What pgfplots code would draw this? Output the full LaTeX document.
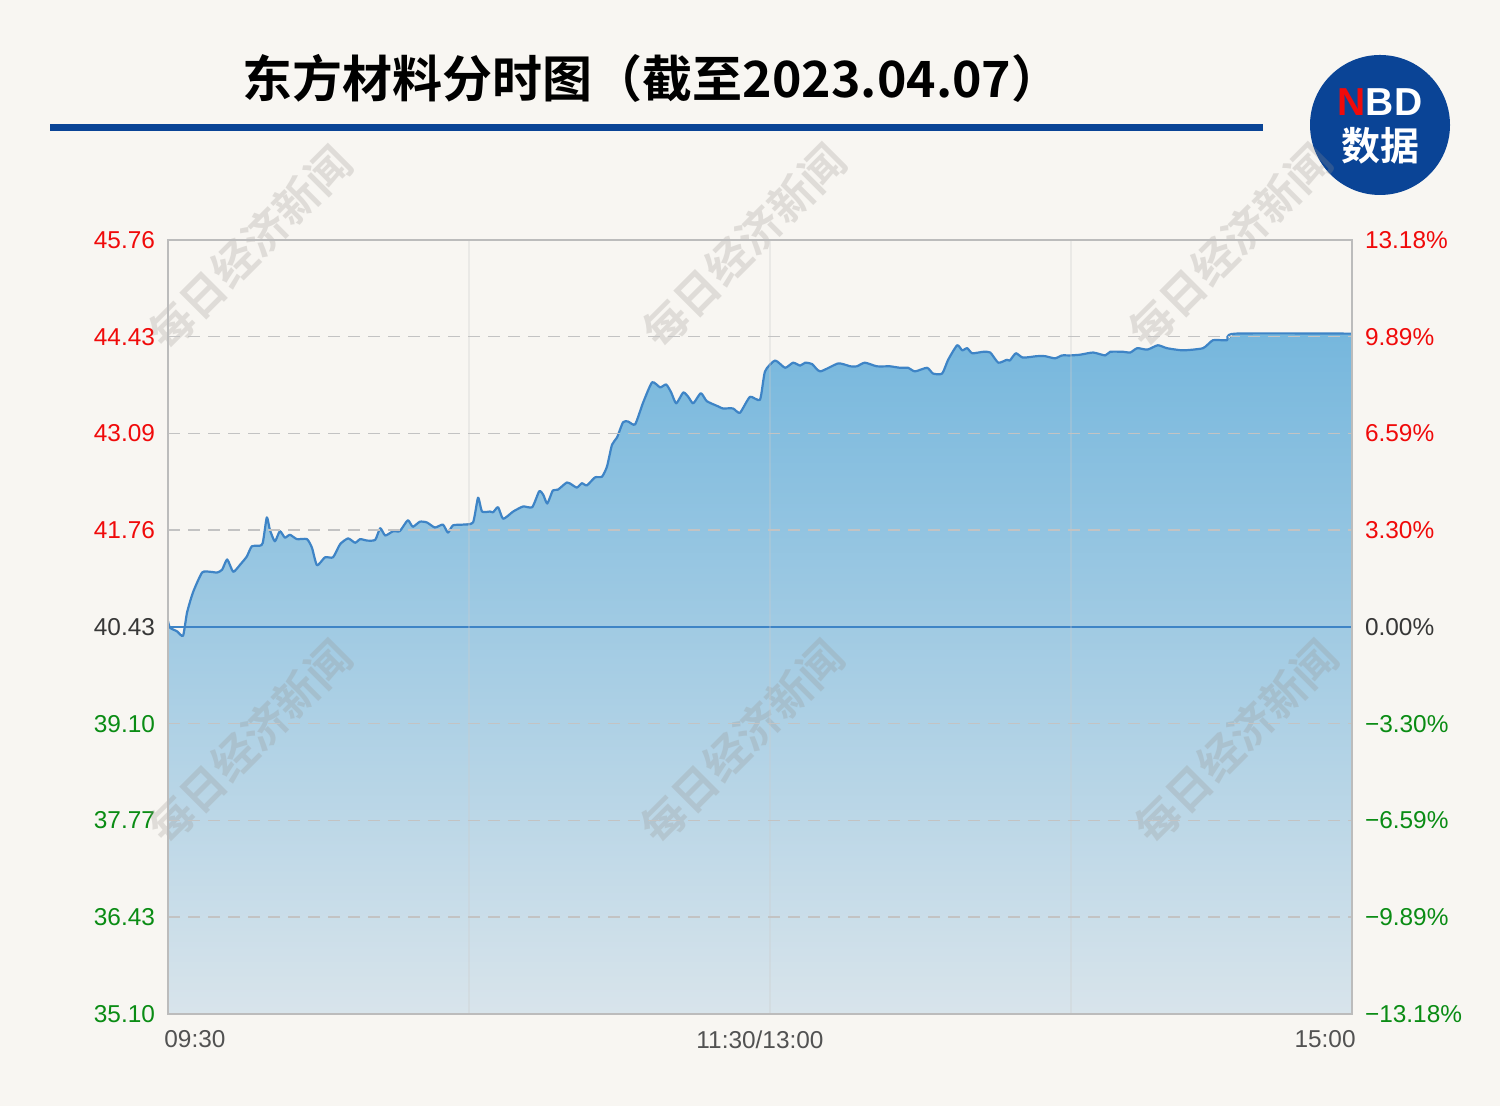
\documentclass[border=0pt]{standalone}
\usepackage{pgfplots}
\pgfplotsset{compat=1.18}
\usepackage{pgfplotstable}
\usepgfplotslibrary{fillbetween}
\usepackage{fontspec}
\setmainfont{Liberation Sans}
\newfontfamily\cjk{Noto Sans CJK SC}[BoldFont={Noto Sans CJK SC Bold}]
\definecolor{bg}{RGB}{248,246,242}
\definecolor{nbdblue}{RGB}{10,68,150}
\definecolor{upred}{RGB}{240,10,10}
\definecolor{dngreen}{RGB}{10,140,20}
\definecolor{neutral}{RGB}{55,55,55}
\definecolor{linec}{RGB}{62,132,198}
\definecolor{gridc}{RGB}{195,195,195}
\definecolor{framec}{RGB}{188,188,188}
\definecolor{filltop}{RGB}{118,183,221}
\definecolor{fillbot}{RGB}{216,228,235}
\definecolor{wm}{RGB}{150,145,140}
\pagecolor{bg}

\pgfplotstableread{
t p
0 40.51
0.4 40.42
1.8 40.37
3.0 40.31
3.8 40.63
5.0 40.91
6.8 41.18
8.4 41.19
9.8 41.18
10.8 41.22
11.8 41.36
13.0 41.19
14.4 41.29
15.7 41.40
16.7 41.54
18.3 41.55
18.9 41.59
19.7 41.94
20.3 41.77
21.3 41.61
22.3 41.75
23.3 41.66
24.3 41.70
25.7 41.64
27.7 41.64
28.7 41.52
29.7 41.28
31.3 41.39
32.9 41.39
34.3 41.57
35.9 41.65
37.3 41.59
38.3 41.64
39.7 41.62
41.3 41.63
42.3 41.79
43.3 41.69
44.9 41.75
46.2 41.75
47.8 41.90
48.8 41.81
50.2 41.88
51.6 41.87
53.2 41.80
54.8 41.84
55.8 41.73
56.8 41.83
58.8 41.84
60.8 41.87
61.8 42.21
62.6 42.02
64.2 42.02
64.8 42.01
65.8 42.08
66.8 41.92
68.8 42.02
70.8 42.09
72.6 42.08
74.0 42.30
74.8 42.25
75.6 42.13
76.7 42.31
77.7 42.32
79.5 42.42
80.5 42.39
81.5 42.35
82.5 42.41
83.5 42.38
85.1 42.49
86.5 42.50
87.5 42.64
88.5 42.94
89.5 43.04
90.7 43.25
91.7 43.26
93.1 43.22
94.7 43.52
96.5 43.80
98.1 43.73
99.3 43.77
100.3 43.66
101.3 43.51
102.7 43.66
103.7 43.60
104.7 43.51
106.2 43.65
107.4 43.54
109.6 43.47
110.6 43.44
112.6 43.44
114.0 43.38
116.0 43.60
118.0 43.56
119.0 43.95
121.0 44.10
123.0 44.00
124.6 44.07
126.0 44.03
127.0 44.07
128.4 44.05
130.0 43.95
133.6 44.06
136.0 44.02
137.3 44.02
138.9 44.07
141.3 44.02
143.9 44.02
145.9 44.00
147.5 44.00
148.9 43.95
151.3 44.00
152.5 43.92
154.3 43.92
155.5 44.11
157.3 44.31
158.3 44.24
159.3 44.27
160.3 44.20
162.5 44.22
163.9 44.21
165.5 44.07
167.2 44.11
167.8 44.10
169.0 44.20
170.4 44.14
173.2 44.16
174.8 44.16
176.8 44.13
178.2 44.17
179.8 44.17
181.8 44.18
184.4 44.21
186.8 44.17
187.8 44.22
190.4 44.22
191.8 44.21
193.2 44.27
195.2 44.25
197.3 44.31
199.1 44.27
202.3 44.24
206.3 44.27
208.3 44.38
211.1 44.38
212.7 44.47
236.0 44.47
}\datatable

\begin{document}
\begin{tikzpicture}

% title
\node[font=\cjk\bfseries\fontsize{25}{28}\selectfont, text=black] at (326pt,514pt) {东方材料分时图（截至2023.04.07）};
\fill[nbdblue] (25pt,487.5pt) rectangle (631.5pt,491pt);

% logo
\fill[nbdblue] (690pt,490.5pt) circle (35pt);
\node[font=\bfseries\fontsize{19.5}{20}\selectfont, inner sep=0] at (690pt,502pt) {\textcolor{upred}{N}\textcolor{white}{BD}};
\node[font=\cjk\bfseries\fontsize{19.5}{20}\selectfont, text=white, inner sep=0] at (690pt,480pt) {数据};

\begin{axis}[
  at={(84pt,46pt)}, anchor=south west,
  scale only axis, width=592pt, height=387pt,
  xmin=0, xmax=236, ymin=35.10, ymax=45.76,
  axis line style={draw=framec, line width=1.1pt},
  major tick length=0pt,
  xtick={60,120,180}, xticklabels={},
  xmajorgrids, x grid style={draw=gray!40, opacity=0.3, line width=0.7pt},
  ytick={35.10,36.4325,37.765,39.0975,40.43,41.7625,43.095,44.4275,45.76},
  yticklabels={\textcolor{dngreen}{35.10},\textcolor{dngreen}{36.43},\textcolor{dngreen}{37.77},\textcolor{dngreen}{39.10},\textcolor{neutral}{40.43},\textcolor{upred}{41.76},\textcolor{upred}{43.09},\textcolor{upred}{44.43},\textcolor{upred}{45.76}},
  yticklabel style={font=\fontsize{12.2}{14}\selectfont, xshift=-3pt},
  extra y ticks={36.4325,37.765,39.0975,41.7625,43.095,44.4275},
  extra y tick labels={},
  extra y tick style={grid=major, major grid style={draw=gridc, dash pattern=on 6pt off 4pt, line width=0.75pt}},
  axis on top,
  clip mode=individual,
]
\addplot[name path=A, draw=none, forget plot] table[x=t,y=p] {\datatable};
\addplot[name path=B, draw=none, forget plot] coordinates {(0,35.10) (236,35.10)};
\addplot[top color=filltop, bottom color=fillbot, draw=none] fill between[of=A and B];
\draw[linec, line width=0.7pt] (axis cs:0,40.43) -- (axis cs:236,40.43);
\addplot[linec, line width=1.1pt, smooth, tension=0.35, line join=round] table[x=t,y=p] {\datatable};
\node[anchor=north west, font=\fontsize{12.2}{14}\selectfont, text=black!68, inner sep=0] at (axis cs:0,35.10) [yshift=-8pt,xshift=-2pt] {09:30};
\node[anchor=north, font=\fontsize{12.2}{14}\selectfont, text=black!68, inner sep=0] at (axis cs:118,35.10) [yshift=-8pt] {11:30/13:00};
\node[anchor=north east, font=\fontsize{12.2}{14}\selectfont, text=black!68, inner sep=0] at (axis cs:236,35.10) [yshift=-8pt,xshift=2pt] {15:00};
\end{axis}

\begin{axis}[
  at={(84pt,46pt)}, anchor=south west,
  scale only axis, width=592pt, height=387pt,
  xmin=0, xmax=236, ymin=35.10, ymax=45.76,
  hide x axis,
  axis y line*=right,
  y axis line style={draw=none},
  major tick length=0pt,
  ytick={35.10,36.4325,37.765,39.0975,40.43,41.7625,43.095,44.4275,45.76},
  yticklabels={\textcolor{dngreen}{−13.18\%},\textcolor{dngreen}{−9.89\%},\textcolor{dngreen}{−6.59\%},\textcolor{dngreen}{−3.30\%},\textcolor{neutral}{0.00\%},\textcolor{upred}{3.30\%},\textcolor{upred}{6.59\%},\textcolor{upred}{9.89\%},\textcolor{upred}{13.18\%}},
  yticklabel style={font=\fontsize{12.2}{14}\selectfont, xshift=3pt},
]
\addplot[draw=none] coordinates {(0,40.43) (236,40.43)};
\end{axis}

% watermarks
\foreach \px/\py in {125/429, 372/430, 615/430, 125/182, 371/182, 618/182}{
  \node[rotate=45, font=\cjk\bfseries\fontsize{22}{23}\selectfont, text=wm, opacity=0.25] at (\px pt,\py pt) {每日经济新闻};
}
\pgfresetboundingbox
\path[use as bounding box] (0pt,0pt) rectangle (750pt,553pt);
\end{tikzpicture}
\end{document}
